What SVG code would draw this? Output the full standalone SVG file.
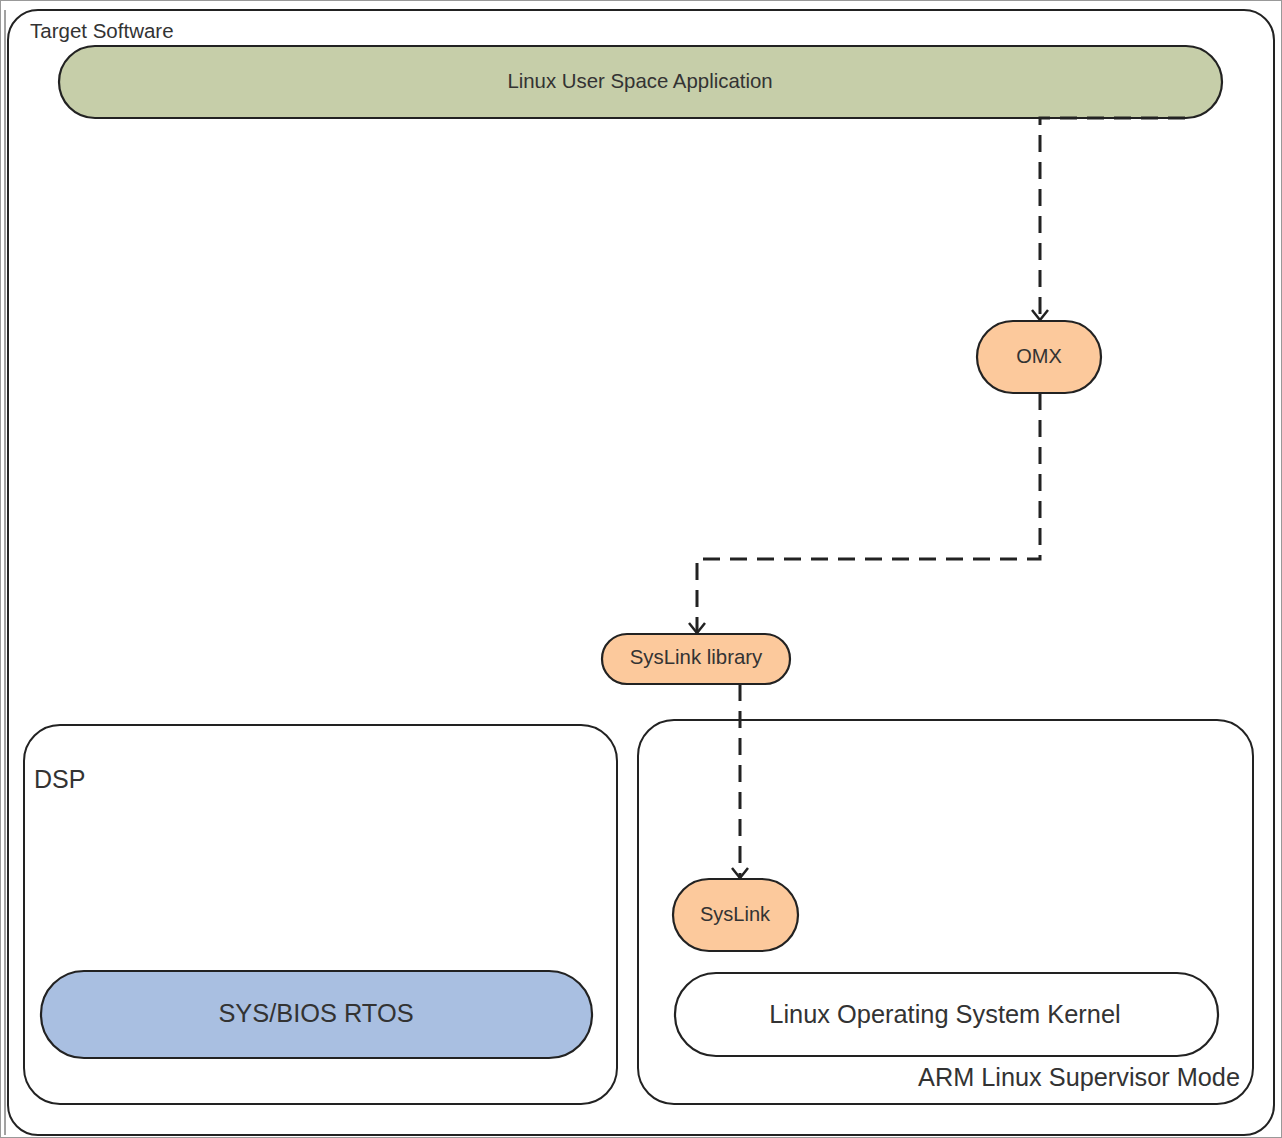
<svg xmlns="http://www.w3.org/2000/svg" width="1282" height="1138" viewBox="0 0 1282 1138">
<defs>
<style>
.frame{fill:#fff;stroke:#222;stroke-width:2}
.node{stroke:#222;stroke-width:2.2}
.t{font-family:"Liberation Sans",Arial,sans-serif;fill:#333}
.conn{fill:none;stroke:#222;stroke-width:3;stroke-dasharray:17 10}
</style>
<marker id="arr" viewBox="0 0 20 20" refX="18" refY="10" markerWidth="20" markerHeight="20" markerUnits="userSpaceOnUse" orient="auto">
<path d="M8,2 L18,10 L8,18" fill="none" stroke="#222" stroke-width="2.5"/>
</marker>
</defs>
<rect x="0" y="0" width="1282" height="1138" fill="#fff"/>
<rect x="0.5" y="0.5" width="1281" height="1137" fill="none" stroke="#999" stroke-width="1"/>
<g id="target-software">
<rect x="8" y="10" width="1266" height="1125" rx="30" class="frame"/>
<line x1="5" y1="10" x2="5" y2="1135" stroke="#444" stroke-width="1"/>
<text x="30" y="38" class="t" font-size="20.5">Target Software</text>
</g>
<g id="dsp">
<rect x="24" y="725" width="593" height="379" rx="36" class="frame"/>
<text x="34" y="788" class="t" font-size="25">DSP</text>
</g>
<g id="arm">
<rect x="638" y="720" width="615" height="384" rx="36" class="frame"/>
<text x="1240" y="1086" class="t" font-size="25.3" text-anchor="end">ARM Linux Supervisor Mode</text>
</g>
<g id="linux-user-space">
<rect x="59" y="46" width="1163" height="72" rx="36" class="node" fill="#c6cea9"/>
<text x="640" y="88" class="t" font-size="20.4" text-anchor="middle">Linux User Space Application</text>
</g>
<g id="omx">
<rect x="977" y="321" width="124" height="72" rx="36" class="node" fill="#fcc99c"/>
<text x="1039" y="363" class="t" font-size="20" text-anchor="middle">OMX</text>
</g>
<g id="syslink-library">
<rect x="602" y="634" width="188" height="50" rx="25" class="node" fill="#fcc99c"/>
<text x="696" y="664" class="t" font-size="20.4" text-anchor="middle">SysLink library</text>
</g>
<g id="syslink">
<rect x="673" y="879" width="125" height="72" rx="36" class="node" fill="#fcc99c"/>
<text x="735" y="921" class="t" font-size="20" text-anchor="middle">SysLink</text>
</g>
<g id="sysbios">
<rect x="41" y="971" width="551" height="87" rx="43" class="node" fill="#a9bfe1"/>
<text x="316" y="1022" class="t" font-size="25.4" text-anchor="middle">SYS/BIOS RTOS</text>
</g>
<g id="linux-kernel">
<rect x="675" y="973" width="543" height="83" rx="41" class="node" fill="#fff"/>
<text x="945" y="1023" class="t" font-size="25.4" text-anchor="middle">Linux Operating System Kernel</text>
</g>
<g id="connectors">
<path d="M1185,118 H1040 V320" class="conn" marker-end="url(#arr)"/>
<path d="M1040,393 V559 H697 V633" class="conn" marker-end="url(#arr)"/>
<path d="M740,684 V878" class="conn" marker-end="url(#arr)"/>
</g>
</svg>
